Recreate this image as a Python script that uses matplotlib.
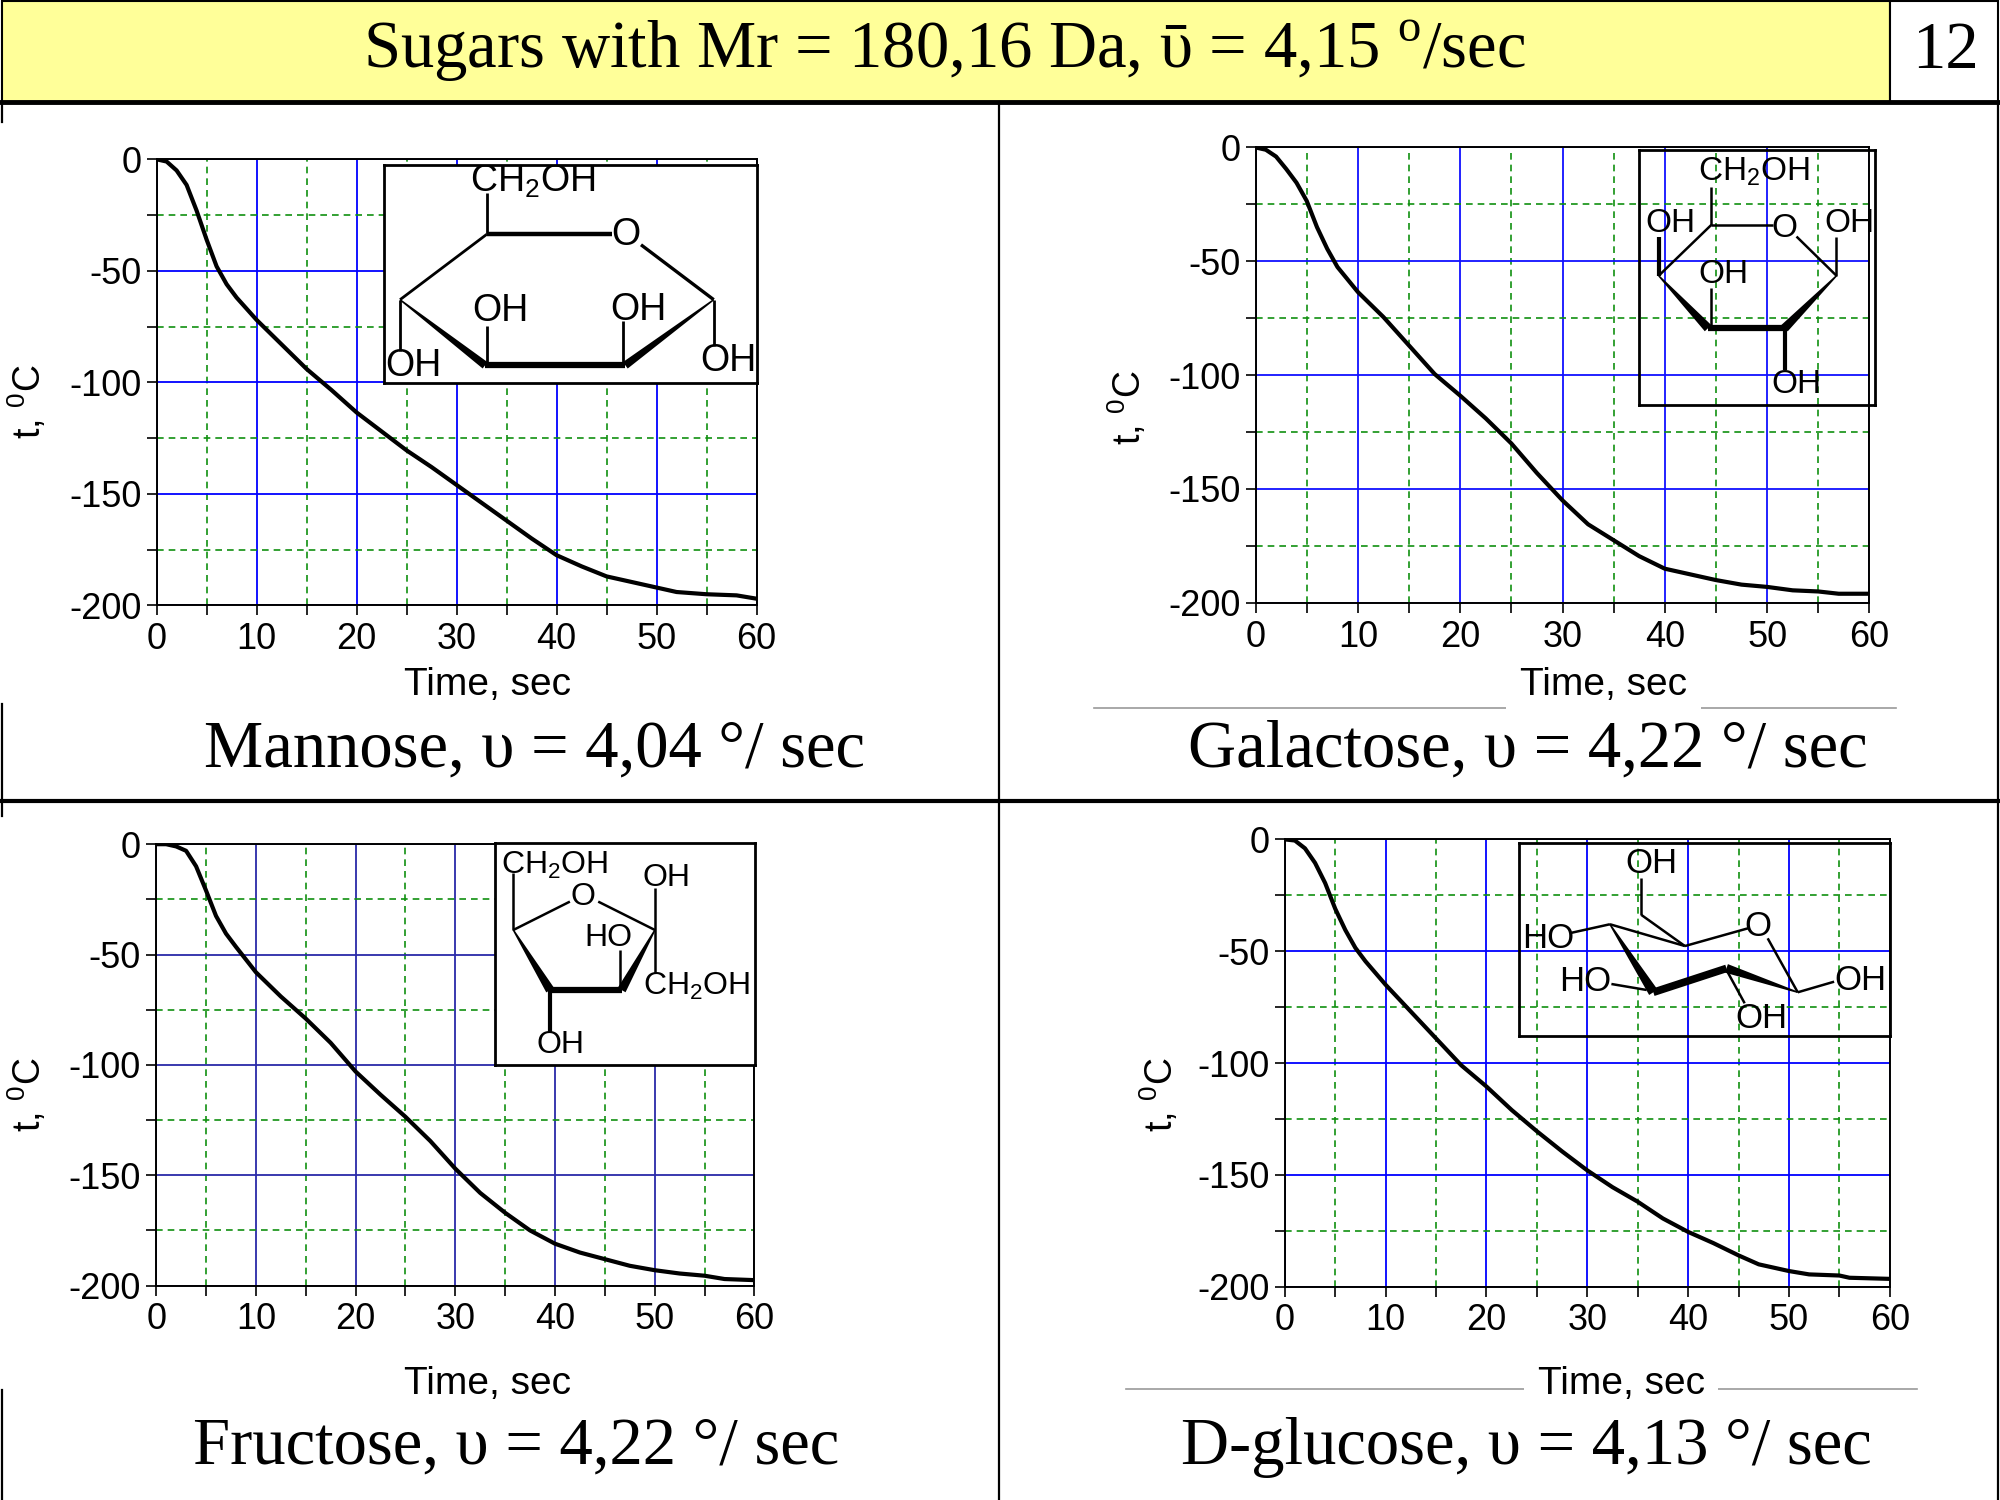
import numpy as np
import matplotlib.pyplot as plt
from matplotlib.patches import Rectangle, Polygon
from matplotlib.lines import Line2D

plt.rcParams['font.family'] = ['Liberation Sans', 'DejaVu Sans']
plt.rcParams['mathtext.fontset'] = 'custom'
plt.rcParams['mathtext.rm'] = 'Liberation Sans'
plt.rcParams['axes.unicode_minus'] = False

# ---- data ----
time_mannose = [0, 1, 2, 3, 4, 5, 6, 7, 8, 9, 10, 12.5, 15, 17.5, 20, 22.5, 25, 27.5,
                30, 32.5, 35, 37.5, 40, 42.5, 45, 47, 50, 52, 55, 58, 60]
temp_mannose = [0, -1, -5, -11.5, -23, -36, -48, -56, -62, -67, -72, -83, -94, -103.5,
                -113.5, -122, -130.5, -138, -146, -154, -162, -170, -177.5, -182.5,
                -187, -189, -192, -194, -195, -195.5, -197]

time_galactose = [0, 1, 2, 3, 4, 5, 6, 7, 8, 10, 12.5, 15, 17.5, 20, 22.5, 25, 27.5,
                  30, 32.5, 35, 37.5, 40, 42.5, 45, 47.5, 50, 52.5, 55, 57, 60]
temp_galactose = [0, -1, -4, -9.5, -15.5, -23.5, -35, -44.5, -52.5, -63.5, -74.5, -87,
                  -99.5, -109, -119, -130, -143, -155, -165.5, -172.5, -179.5, -185,
                  -187.5, -190, -192, -193, -194.5, -195, -196, -196]

time_fructose = [0, 1, 2, 3, 4, 5, 6, 7, 8, 10, 12.5, 15, 17.5, 20, 22.5, 25, 27.5,
                 30, 32.5, 35, 37.5, 40, 42.5, 45, 47.5, 50, 52.5, 55, 57, 60]
temp_fructose = [0, 0, -1, -3, -10, -21, -32.5, -40.5, -46.5, -58, -69, -79, -90, -103,
                 -113.5, -123.5, -134.5, -147, -158, -167, -175, -181, -185, -188, -191,
                 -193, -194.5, -195.5, -197, -197.5]

time_glucose = [0, 1, 2, 3, 4, 5, 6, 7, 8, 10, 12.5, 15, 17.5, 20, 22.5, 25, 27.5, 30,
                32.5, 35, 37.5, 40, 42.5, 45, 47, 48, 50, 52, 55, 56, 60]
temp_glucose = [0, -0.5, -4, -10.5, -19.5, -31, -40.5, -48.5, -54.5, -65, -77, -89, -101,
                -110.5, -121, -130.5, -139.5, -148, -155.5, -162, -169.5, -175.5, -180.5,
                -186, -190, -191, -193, -194.5, -195, -196, -196.5]

captions = ['Mannose, υ = 4,04 °/ sec', 'Galactose, υ = 4,22 °/ sec',
            'Fructose, υ = 4,22 °/ sec', 'D-glucose, υ = 4,13 °/ sec']
title = 'Sugars with Mr = 180,16 Da, ῡ = 4,15 $^\\mathregular{o}$/sec'
page_no = '12'

x_major = list(range(0, 61, 10))
x_minor = list(range(5, 60, 10))
y_major = list(range(-200, 1, 50))
y_minor = list(range(-175, 0, 50))

# ---- structure drawings (inset unit coordinates) ----
CH2OH = r'CH$_\mathregular{2}$OH'
mannose_struct = dict(
    fs=27,
    lines=[(0.2755, 0.87, 0.2755, 0.682, 2.0), (0.2755, 0.682, 0.611, 0.682, 3.2),
           (0.689, 0.634, 0.884, 0.382, 2.4), (0.2755, 0.682, 0.043, 0.382, 2.0),
           (0.043, 0.382, 0.043, 0.145, 2.0), (0.2755, 0.26, 0.2755, 0.081, 2.0),
           (0.642, 0.282, 0.642, 0.081, 2.0), (0.884, 0.382, 0.884, 0.168, 2.0),
           (0.271, 0.081, 0.647, 0.081, 4.5)],
    wedges=[(0.043, 0.382, 0.271, 0.081, 1.5, 8), (0.884, 0.382, 0.647, 0.081, 1.5, 8)],
    labels=[(0.40, 0.924, CH2OH), (0.647, 0.679, 'O'), (0.079, 0.076, 'OH'),
            (0.311, 0.328, 'OH'), (0.682, 0.336, 'OH'), (0.924, 0.10, 'OH')])
galactose_struct = dict(
    fs=24,
    lines=[(0.306, 0.856, 0.306, 0.706, 1.8), (0.306, 0.706, 0.566, 0.706, 1.8),
           (0.668, 0.66, 0.838, 0.506, 1.8), (0.838, 0.506, 0.838, 0.66, 1.8),
           (0.306, 0.706, 0.082, 0.506, 1.8), (0.082, 0.506, 0.082, 0.66, 3.0),
           (0.306, 0.457, 0.306, 0.30, 1.8), (0.292, 0.30, 0.617, 0.30, 4.5),
           (0.617, 0.30, 0.617, 0.137, 3.0)],
    wedges=[(0.082, 0.506, 0.292, 0.30, 1.5, 9), (0.838, 0.506, 0.617, 0.30, 1.5, 9)],
    labels=[(0.487, 0.915, CH2OH), (0.617, 0.693, 'O'), (0.892, 0.712, 'OH'),
            (0.133, 0.712, 'OH'), (0.357, 0.51, 'OH'), (0.667, 0.078, 'OH')])
fructose_struct = dict(
    fs=23,
    lines=[(0.0705, 0.865, 0.0705, 0.609, 1.8), (0.0705, 0.609, 0.288, 0.737, 1.8),
           (0.397, 0.737, 0.615, 0.609, 1.8), (0.615, 0.797, 0.615, 0.414, 1.8),
           (0.481, 0.519, 0.481, 0.338, 1.8), (0.212, 0.338, 0.487, 0.338, 4.5),
           (0.212, 0.338, 0.212, 0.15, 3.0)],
    wedges=[(0.0705, 0.609, 0.212, 0.338, 1.5, 9), (0.615, 0.609, 0.487, 0.338, 1.5, 9)],
    labels=[(0.231, 0.902, CH2OH), (0.34, 0.759, 'O'), (0.66, 0.842, 'OH'),
            (0.776, 0.353, CH2OH), (0.436, 0.571, 'HO'), (0.25, 0.09, 'OH')])
glucose_struct = dict(
    fs=25,
    lines=[(0.331, 0.818, 0.331, 0.628, 1.8), (0.331, 0.628, 0.448, 0.467, 1.8),
           (0.143, 0.536, 0.246, 0.58, 1.8), (0.246, 0.58, 0.448, 0.467, 1.8),
           (0.448, 0.467, 0.618, 0.559, 1.8), (0.671, 0.507, 0.752, 0.227, 1.8),
           (0.25, 0.27, 0.345, 0.239, 1.8), (0.56, 0.343, 0.609, 0.17, 1.8),
           (0.752, 0.227, 0.85, 0.282, 1.8), (0.363, 0.227, 0.56, 0.351, 5.5)],
    wedges=[(0.246, 0.58, 0.363, 0.227, 1.5, 10), (0.752, 0.227, 0.56, 0.351, 1.5, 9)],
    labels=[(0.358, 0.896, 'OH'), (0.081, 0.507, 'HO'), (0.645, 0.567, 'O'),
            (0.179, 0.282, 'HO'), (0.653, 0.092, 'OH'), (0.922, 0.29, 'OH')])

fig = plt.figure(figsize=(20, 15), dpi=100)
FW, FH = 2000, 1500

panels = [
    dict(t=time_mannose, T=temp_mannose, rect=[0.0783, 0.5964, 0.300, 0.2974],
         blue='#0000ff', inset=[0.192, 0.7447, 0.1865, 0.1453], opaque=True,
         struct=mannose_struct, cap=(0.267, 0.500), xl=(0.2436, 0.5434, False),
         yl=(0.014, 0.732)),
    dict(t=time_galactose, T=temp_galactose, rect=[0.6278, 0.5981, 0.3069, 0.3036],
         blue='#1010ff', inset=[0.8197, 0.7303, 0.1176, 0.1697], opaque=False,
         struct=galactose_struct, cap=(0.764, 0.500), xl=(0.8017, 0.5434, True),
         yl=(0.564, 0.728)),
    dict(t=time_fructose, T=temp_fructose, rect=[0.0781, 0.1429, 0.2991, 0.2943],
         blue='#2a2aa8', inset=[0.2475, 0.290, 0.130, 0.1478], opaque=True,
         struct=fructose_struct, cap=(0.258, 0.035), xl=(0.2436, 0.0774, False),
         yl=(0.014, 0.270)),
    dict(t=time_glucose, T=temp_glucose, rect=[0.6424, 0.1422, 0.3025, 0.2982],
         blue='#0000ff', inset=[0.7593, 0.3093, 0.1856, 0.1285], opaque=False,
         struct=glucose_struct, cap=(0.763, 0.035), xl=(0.8106, 0.0774, True),
         yl=(0.580, 0.270)),
]


def draw_structure(iax, st, rect):
    wpx, hpx = rect[2] * FW, rect[3] * FH
    for x0, y0, x1, y1, lw in st['lines']:
        iax.plot([x0, x1], [y0, y1], color='black', lw=lw, solid_capstyle='butt')
    for x0, y0, x1, y1, w0, w1 in st['wedges']:
        p0 = np.array([x0 * wpx, y0 * hpx])
        p1 = np.array([x1 * wpx, y1 * hpx])
        d = (p1 - p0) / np.linalg.norm(p1 - p0)
        n = np.array([-d[1], d[0]])
        pts = [p0 + n * w0 / 2, p1 + n * w1 / 2, p1 - n * w1 / 2, p0 - n * w0 / 2]
        pts = [(q[0] / wpx, q[1] / hpx) for q in pts]
        iax.add_patch(Polygon(pts, closed=True, color='black', lw=0))
    for x, y, s in st['labels']:
        iax.text(x, y, s, fontsize=st['fs'], ha='center', va='center', clip_on=True)


for p in panels:
    ax = fig.add_axes(p['rect'])
    ax.plot(p['t'], p['T'], color='black', lw=3.0, zorder=3)
    ax.set_xlim(0, 60)
    ax.set_ylim(-200, 0)
    ax.set_xticks(x_major)
    ax.set_xticks(x_minor, minor=True)
    ax.set_yticks(y_major)
    ax.set_yticks(y_minor, minor=True)
    ax.grid(which='major', color=p['blue'], lw=1.3)
    ax.grid(which='minor', color='#109010', lw=1.2, ls=(0, (4, 3)))
    ax.tick_params(which='both', direction='out', length=7, width=1.2,
                   labelsize=26, color='black')
    ax.tick_params(axis='x', pad=5)
    ax.tick_params(axis='y', pad=4)
    for sp in ax.spines.values():
        sp.set_color('black')
        sp.set_linewidth(1.4)

    iax = fig.add_axes(p['inset'])
    iax.set_xlim(0, 1)
    iax.set_ylim(0, 1)
    iax.set_xticks([])
    iax.set_yticks([])
    iax.set_facecolor('white' if p['opaque'] else 'none')
    for sp in iax.spines.values():
        sp.set_linewidth(2.0)
    draw_structure(iax, p['struct'], p['inset'])

    xl = p['xl']
    if xl[2]:
        fig.text(xl[0], xl[1], 'Time, sec', fontsize=28, ha='center', va='center',
                 bbox=dict(boxstyle='square,pad=0.35', fc='white', ec='none'), zorder=5)
    else:
        fig.text(xl[0], xl[1], 'Time, sec', fontsize=28, ha='center', va='center')
    fig.text(p['yl'][0], p['yl'][1], r't, $^\mathregular{0}$C', fontsize=27,
             rotation=90, ha='center', va='center')

for i, p in enumerate(panels):
    fig.text(p['cap'][0], p['cap'][1], captions[i], fontsize=48, ha='center',
             va='center', family=['Liberation Serif', 'DejaVu Serif'])

# gray rules under the right-hand axis titles
fig.add_artist(Line2D([0.547, 0.948], [0.528, 0.528], color='#999999', lw=1.2, zorder=1))
fig.add_artist(Line2D([0.563, 0.9585], [0.074, 0.074], color='#999999', lw=1.2, zorder=1))

# header bar
fig.add_artist(Rectangle((0.001, 0.932), 0.944, 0.067, transform=fig.transFigure,
                         fc='#ffff99', ec='black', lw=1.5))
fig.add_artist(Rectangle((0.945, 0.932), 0.054, 0.067, transform=fig.transFigure,
                         fc='white', ec='black', lw=1.5))
fig.text(0.472, 0.966, title, fontsize=48, ha='center', va='center',
         family=['Liberation Serif', 'DejaVu Serif'])
fig.text(0.9725, 0.966, page_no, fontsize=48, ha='center', va='center',
         family=['Liberation Serif', 'DejaVu Serif'])

# page frame and dividers
frame = [([0, 1], [0.932, 0.932], 3.5), ([0.4995, 0.4995], [0, 0.932], 1.6),
         ([0, 1], [0.466, 0.466], 3.0), ([0.999, 0.999], [0, 0.932], 1.6),
         ([0.001, 0.001], [0.919, 0.932], 1.6), ([0.001, 0.001], [0.4558, 0.5306], 1.6),
         ([0.001, 0.001], [0, 0.0731], 1.6)]
for xs, ys, lw in frame:
    fig.add_artist(Line2D(xs, ys, color='black', lw=lw, zorder=6))

fig.savefig('out.png', dpi=100, facecolor='white')
